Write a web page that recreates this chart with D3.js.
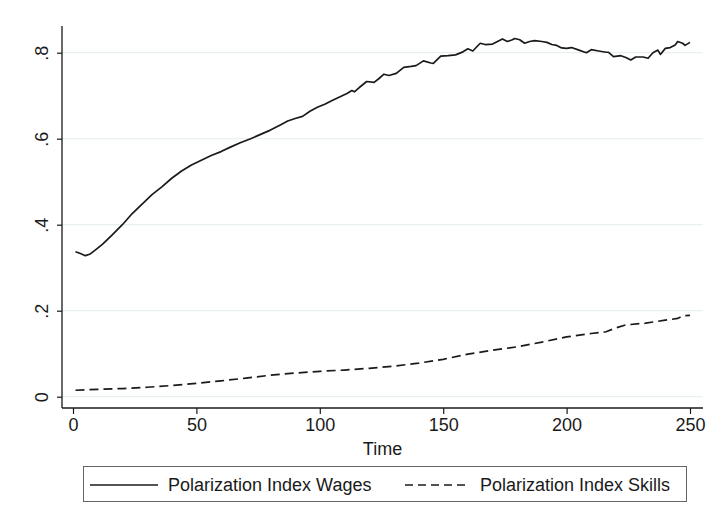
<!DOCTYPE html>
<html>
<head>
<meta charset="utf-8">
<script src="https://cdn.jsdelivr.net/npm/d3@7"></script>
<style>
  html, body { margin: 0; padding: 0; background: #fff; }
  svg { display: block; font-family: "Liberation Sans", Arial, sans-serif; }
</style>
</head>
<body>
<svg id="chart" width="711" height="519"></svg>
<script>
// Polarization index over time: wages (solid) and skills (dashed)
const wageTime = [1, 3, 5, 7, 9, 12, 16, 20, 24, 28, 32, 36, 40, 44, 48, 52, 56, 60, 64, 68,
  72, 76, 80, 84, 87, 90, 93, 96, 99, 102, 105, 108, 111, 113, 114, 116, 119, 122, 124, 126,
  128, 131, 134, 137, 139, 142, 145, 146, 149, 152, 155, 158, 160, 162, 165, 167, 170, 172, 174, 176,
  178, 179, 181, 183, 185, 187, 190, 192, 194, 196, 198, 200, 202, 205, 208, 210, 213, 216, 217, 219,
  222, 224, 226, 228, 231, 233, 235, 237, 238, 240, 242, 244, 245, 247, 248, 250];
const wageValue = [0.337, 0.333, 0.328, 0.332, 0.341, 0.355, 0.377, 0.400, 0.426, 0.448, 0.470, 0.488, 0.508, 0.525, 0.539, 0.550, 0.561, 0.570, 0.581, 0.591,
  0.600, 0.610, 0.620, 0.632, 0.641, 0.647, 0.652, 0.664, 0.673, 0.680, 0.689, 0.697, 0.705, 0.712, 0.709, 0.719, 0.733, 0.731, 0.740, 0.750,
  0.747, 0.752, 0.766, 0.768, 0.770, 0.781, 0.776, 0.775, 0.792, 0.793, 0.795, 0.802, 0.809, 0.804, 0.822, 0.819, 0.820, 0.826, 0.832, 0.826,
  0.830, 0.833, 0.830, 0.822, 0.826, 0.828, 0.826, 0.824, 0.819, 0.817, 0.811, 0.810, 0.812, 0.806, 0.800, 0.807, 0.804, 0.801, 0.801, 0.791,
  0.793, 0.789, 0.783, 0.790, 0.790, 0.787, 0.800, 0.806, 0.796, 0.810, 0.812, 0.818, 0.826, 0.822, 0.817, 0.824];

const skillTime = [1, 10, 20, 30, 40, 50, 60, 70, 80, 90, 100, 110, 120, 130, 140, 150, 160, 170, 180, 190,
  200, 210, 216, 220, 224, 232, 240, 245, 247, 250];
const skillValue = [0.015, 0.017, 0.019, 0.022, 0.026, 0.031, 0.037, 0.043, 0.050, 0.055, 0.059, 0.062, 0.066, 0.071, 0.078, 0.087, 0.099, 0.108, 0.116, 0.127,
  0.139, 0.147, 0.151, 0.160, 0.167, 0.171, 0.178, 0.182, 0.188, 0.189];

const xTicks = [0, 50, 100, 150, 200, 250];
const yTicks = [0, 0.2, 0.4, 0.6, 0.8];
const yTickLabels = ["0", ".2", ".4", ".6", ".8"];
const seriesNames = ["Polarization Index Wages", "Polarization Index Skills"];
const xTitle = "Time";

const svg = d3.select("#chart");
const plot = { left: 62, right: 703, top: 26, bottom: 408 };

const x = d3.scaleLinear().domain([0, 250]).range([73, 690]);
const y = d3.scaleLinear().domain([0, 0.8]).range([396.7, 52.7]);

const ink = "#1a1a1a";
const fontSize = 18;

// horizontal grid lines
svg.append("g")
  .selectAll("line")
  .data(yTicks)
  .join("line")
  .attr("x1", plot.left).attr("x2", plot.right)
  .attr("y1", d => y(d)).attr("y2", d => y(d))
  .attr("stroke", "#e8f0f1").attr("stroke-width", 1.2);

// y axis
const yAxis = d3.axisLeft(y)
  .tickValues(yTicks)
  .tickSize(5)
  .tickPadding(9)
  .tickFormat((d, i) => yTickLabels[i]);
const gy = svg.append("g").attr("transform", `translate(${plot.left},0)`).call(yAxis);
gy.select(".domain").remove();
gy.selectAll(".tick line").attr("stroke", ink).attr("stroke-width", 1.2);
gy.selectAll(".tick text")
  .attr("fill", ink)
  .attr("font-size", fontSize)
  .attr("font-family", "Liberation Sans, Arial, sans-serif")
  .attr("text-anchor", "middle")
  .attr("dy", null)
  .attr("x", null)
  .attr("transform", "translate(-14,0) rotate(-90)");
svg.append("line")
  .attr("x1", plot.left).attr("x2", plot.left)
  .attr("y1", plot.top).attr("y2", plot.bottom)
  .attr("stroke", ink).attr("stroke-width", 1.3);

// x axis
const xAxis = d3.axisBottom(x)
  .tickValues(xTicks)
  .tickSize(6)
  .tickPadding(4)
  .tickFormat(d3.format("d"));
const gx = svg.append("g").attr("transform", `translate(0,${plot.bottom})`).call(xAxis);
gx.select(".domain").remove();
gx.selectAll(".tick line").attr("stroke", ink).attr("stroke-width", 1.2);
gx.selectAll(".tick text")
  .attr("fill", ink)
  .attr("font-size", fontSize)
  .attr("font-family", "Liberation Sans, Arial, sans-serif");
svg.append("line")
  .attr("x1", plot.left).attr("x2", plot.right)
  .attr("y1", plot.bottom).attr("y2", plot.bottom)
  .attr("stroke", ink).attr("stroke-width", 1.3);

svg.append("text")
  .attr("x", (plot.left + plot.right) / 2)
  .attr("y", 455)
  .attr("text-anchor", "middle")
  .attr("font-size", fontSize)
  .attr("fill", ink)
  .text(xTitle);

// series
const wages = wageTime.map((t, i) => [t, wageValue[i]]);
const skills = skillTime.map((t, i) => [t, skillValue[i]]);
const line = d3.line().x(d => x(d[0])).y(d => y(d[1]));

svg.append("path")
  .datum(wages)
  .attr("d", line)
  .attr("fill", "none")
  .attr("stroke", ink)
  .attr("stroke-width", 1.7)
  .attr("stroke-linejoin", "round");

svg.append("path")
  .datum(skills)
  .attr("d", line)
  .attr("fill", "none")
  .attr("stroke", ink)
  .attr("stroke-width", 1.7)
  .attr("stroke-dasharray", "9,5");

// legend
const legend = svg.append("g");
legend.append("rect")
  .attr("x", 83.5).attr("y", 466.5)
  .attr("width", 603).attr("height", 35)
  .attr("fill", "#fff")
  .attr("stroke", "#666").attr("stroke-width", 1);

const legendItems = [
  { name: seriesNames[0], x0: 90, x1: 158, dash: null },
  { name: seriesNames[1], x0: 405, x1: 470, dash: "8,5" }
];
legendItems.forEach(item => {
  legend.append("line")
    .attr("x1", item.x0).attr("x2", item.x1)
    .attr("y1", 485).attr("y2", 485)
    .attr("stroke", ink).attr("stroke-width", 1.7)
    .attr("stroke-dasharray", item.dash);
  legend.append("text")
    .attr("x", item.x1 + 10)
    .attr("y", 491)
    .attr("font-size", fontSize)
    .attr("fill", ink)
    .text(item.name);
});
</script>
</body>
</html>
